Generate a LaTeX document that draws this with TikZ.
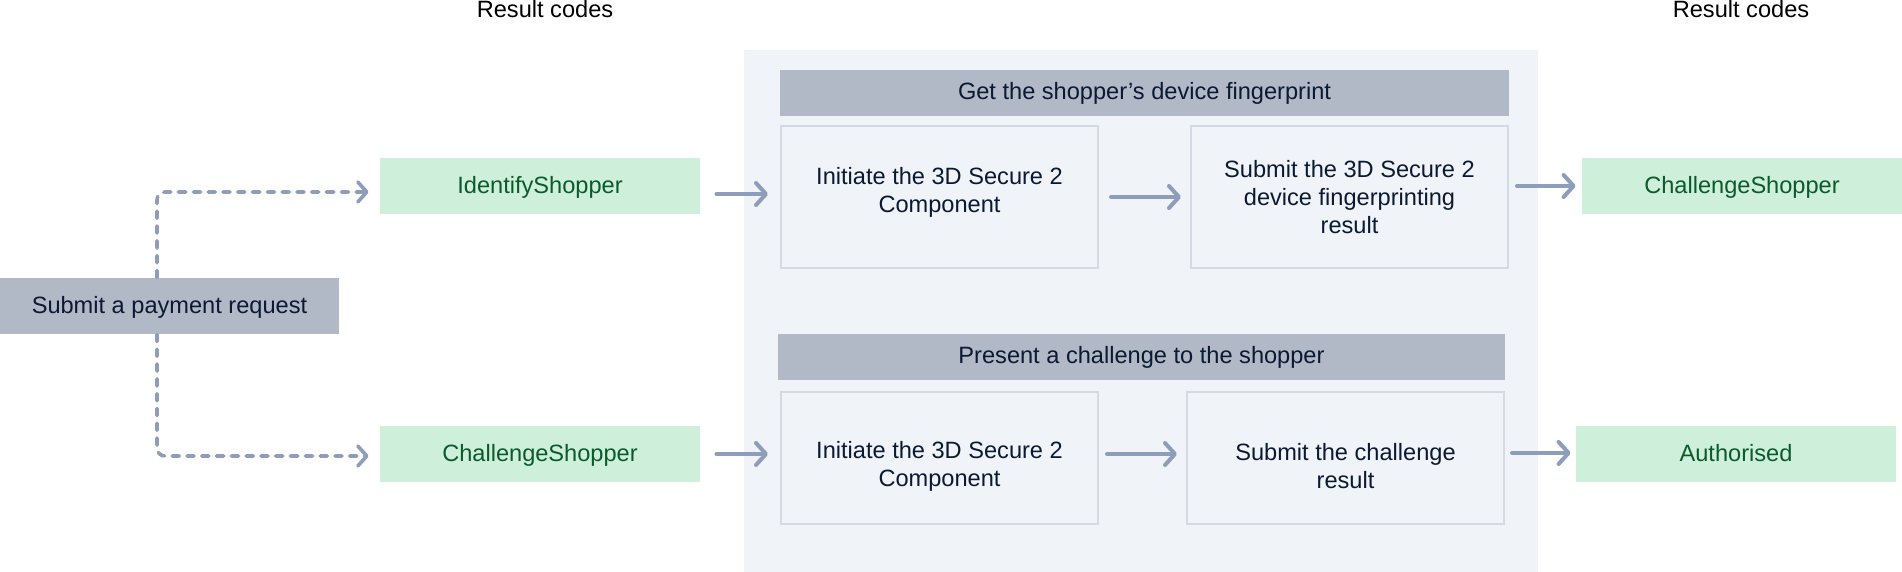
\documentclass[tikz,border=0pt]{standalone}
\usepackage{fontspec}
\setmainfont{Liberation Sans}
\usepackage{tikz}
\usetikzlibrary{arrows.meta}
\definecolor{panelgray}{HTML}{F0F3F7}
\definecolor{stagegray}{HTML}{B1B8C6}
\definecolor{taskline}{HTML}{D3DAE3}
\definecolor{codegreen}{HTML}{CEF0DB}
\definecolor{codetext}{HTML}{0B5A2B}
\definecolor{navy}{HTML}{0A1A33}
\definecolor{arrowblue}{HTML}{8E9DB9}

\begin{document}
\begin{tikzpicture}[x=0.5pt,y=-0.5pt,
    every node/.style={font=\fontsize{11.8}{14}\selectfont, inner sep=0pt},
    code/.style={fill=codegreen, text=codetext, text depth=0.6pt, minimum width=160pt, minimum height=28pt},
    stage/.style={fill=stagegray, text=navy, minimum height=23pt},
    task/.style={draw=taskline, line width=1pt, fill=panelgray, text=navy, align=center, minimum width=158.5pt},
    flow/.style={draw=arrowblue, line width=2pt, line cap=round, -{Straight Barb[length=5pt,width=11pt,round]}},
    branch/.style={draw=arrowblue, line width=1.8pt, line cap=round, dash pattern=on 3.6pt off 3.8pt, rounded corners=4pt, -{Straight Barb[length=4.5pt,width=10pt,round]}}]
  \useasboundingbox (0,0) rectangle (1902,572);
  \fill[white] (0,0) rectangle (1902,572);
  \fill[panelgray] (744,50) rectangle (1538,572);

  \node[anchor=base] (resLeft) at (545,17.5) {Result codes};
  \node[anchor=base] (resRight) at (1741,17.5) {Result codes};

  \node[fill=stagegray, text=navy, text depth=0.6pt, minimum width=169.5pt, minimum height=28pt] (pay) at (169.5,306) {Submit a payment request};
  \node[code] (idShopper) at (540,186) {IdentifyShopper};
  \node[code] (chShopper) at (540,454) {ChallengeShopper};

  \node[stage, minimum width=364.5pt] (fpStage) at (1144.5,93) {Get the shopper’s device fingerprint};
  \node[task, minimum height=71pt] (fpInit) at (939.5,197) {Initiate the 3D Secure 2\\Component\rule[-7pt]{0pt}{1pt}};
  \node[task, minimum height=71pt] (fpSubmit) at (1349.5,197) {Submit the 3D Secure 2\\device fingerprinting\\result};
  \node[stage, minimum width=363.5pt] (chStage) at (1141.5,357) {Present a challenge to the shopper};
  \node[task, minimum height=66pt] (chInit) at (939.5,458) {\rule{0pt}{16.5pt}Initiate the 3D Secure 2\\Component};
  \node[task, minimum height=66pt] (chSubmit) at (1345.5,458) {\rule{0pt}{16.5pt}Submit the challenge\\result};

  \node[code] (chShopperOut) at (1742,186) {ChallengeShopper};
  \node[code] (authorised) at (1736,454) {Authorised};

  % branches from the payment request
  \draw[branch] ([xshift=-6.25pt]pay.north) |- ([shift={(-11,6)}]idShopper.west);
  \draw[branch] ([xshift=-6.25pt]pay.south) |- ([shift={(-11,2)}]chShopper.west);

  \draw[flow] ([shift={(16,8)}]idShopper.east) -- ([shift={(-12,-3)}]fpInit.west);
  \draw[flow] ([xshift=6pt]fpInit.east) -- ([xshift=-4.5pt]fpSubmit.west);
  \draw[flow] ([shift={(8,-11)}]fpSubmit.east) -- ([xshift=-3pt]chShopperOut.west);

  \draw[flow] ([xshift=8pt]chShopper.east) -- ([shift={(-12,-4)}]chInit.west);
  \draw[flow] ([shift={(8,-4)}]chInit.east) -- ([shift={(-9,-4)}]chSubmit.west);
  \draw[flow] ([shift={(7,-5)}]chSubmit.east) -- ([shift={(-5,-1)}]authorised.west);
\end{tikzpicture}
\end{document}
